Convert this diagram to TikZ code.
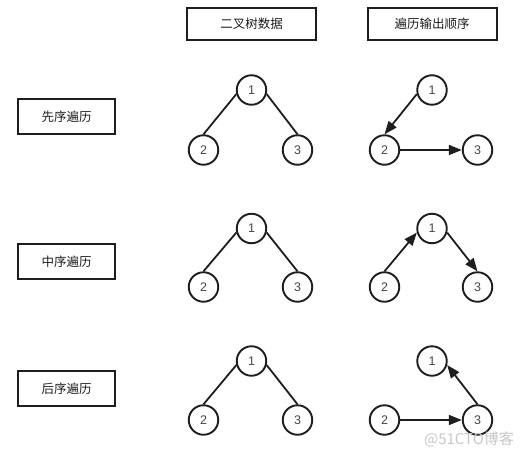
\documentclass[tikz,border=0pt]{standalone}
\usepackage{fontspec}
\setmainfont{Liberation Sans}
\newfontfamily\cjk{Noto Sans CJK SC}
\usetikzlibrary{arrows.meta}
\definecolor{ink}{RGB}{30,30,30}
\definecolor{numc}{RGB}{70,70,70}
\definecolor{wmc}{RGB}{200,200,200}
\begin{document}
\begin{tikzpicture}[x=1pt,y=-1pt,
  box/.style={draw=ink,line width=2pt,inner sep=0pt,font=\cjk\fontsize{12.5}{14}\selectfont,text=ink},
  hbox/.style={box,minimum width=129pt,minimum height=32pt},
  lbox/.style={box,minimum width=97pt,minimum height=35pt},
  tnode/.style={circle,draw=ink,line width=1.9pt,minimum size=29.5pt,inner sep=0pt,font=\fontsize{12.5}{14}\selectfont,text=numc},
  link/.style={draw=ink,line width=1.8pt},
  arr/.style={link,-{Triangle[length=13pt,width=10pt]}}]
\fill[white] (0,0) rectangle (530,458);
\useasboundingbox (0,0) rectangle (530,458);

% headers
\node[hbox] (h1) at (251.5,24) {二叉树数据};
\node[hbox] (h2) at (432,24) {遍历输出顺序};

% row labels
\node[lbox] (pre) at (66.5,116.5) {先序遍历};
\node[lbox] (in) at (66.5,261.5) {中序遍历};
\node[lbox] (post) at (66.5,388.5) {后序遍历};

% row 1 trees
\node[tnode] (a1) at (251.5,90) {1};
\node[tnode] (a2) at (203.5,150) {2};
\node[tnode] (a3) at (297.5,150) {3};
\draw[link] (a1.195) -- (a2.north);
\draw[link] (a1.-15) -- (a3.north);

\node[tnode] (b1) at (432,90) {1};
\node[tnode] (b2) at (384.5,150) {2};
\node[tnode] (b3) at (477.5,150) {3};
\draw[arr] (b1.195) -- (b2.north);
\draw[arr] (b2.east) -- (b3.west);

% row 2 trees
\node[tnode] (c1) at (251.5,228.5) {1};
\node[tnode] (c2) at (203.5,287) {2};
\node[tnode] (c3) at (297.5,287) {3};
\draw[link] (c1.195) -- (c2.north);
\draw[link] (c1.-15) -- (c3.north);

\node[tnode] (d1) at (432,228.5) {1};
\node[tnode] (d2) at (384.5,287) {2};
\node[tnode] (d3) at (477.5,287) {3};
\draw[arr] (d2.north) -- (d1.195);
\draw[arr] (d1.-15) -- (d3.north);

% row 3 trees
\node[tnode] (e1) at (251.5,361) {1};
\node[tnode] (e2) at (203.5,420) {2};
\node[tnode] (e3) at (297.5,420) {3};
\draw[link] (e1.195) -- (e2.north);
\draw[link] (e1.-15) -- (e3.north);

\node[tnode] (f1) at (432,361) {1};
\node[tnode] (f2) at (384.5,420) {2};
\node[tnode] (f3) at (477.5,420) {3};
\draw[arr] (f2.east) -- (f3.west);
\draw[arr] (f3.north) -- (f1.-15);

% watermark
\node[font=\cjk\fontsize{15}{16}\selectfont,text=wmc,inner sep=0pt] (wm) at (469,439) {@51CTO博客};
\end{tikzpicture}
\end{document}
